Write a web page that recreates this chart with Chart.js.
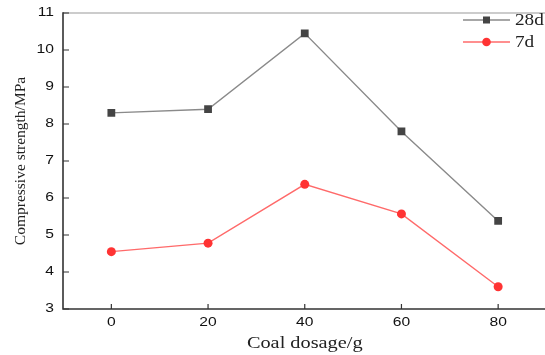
<!DOCTYPE html>
<html>
<head>
<meta charset="utf-8">
<script src="https://cdn.jsdelivr.net/npm/chart.js@4/dist/chart.umd.min.js"></script>
<style>
  html, body { margin: 0; padding: 0; background: #fff; overflow: hidden; }
  #wrap { position: absolute; left: 0; top: 0; width: 552px; height: 355px; }
</style>
</head>
<body>
<div id="wrap"><canvas id="chart"></canvas></div>
<script>
// data
var dosage = [0, 20, 40, 60, 80];
var strength28 = [8.3, 8.4, 10.45, 7.8, 5.38];
var strength7 = [4.55, 4.78, 6.37, 5.57, 3.6];
var xTicks = [0, 20, 40, 60, 80];
var yTicks = [3, 4, 5, 6, 7, 8, 9, 10, 11];
var xTitle = "Coal dosage/g";
var yTitle = "Compressive strength/MPa";

function toPoints(ys) {
  var pts = [];
  for (i = 0; i < dosage.length; i++) {
    pts.push({ x: dosage[i], y: ys[i] });
  }
  return pts;
}

// 原圖文字被橫向拉寬，用 scale 模擬
function stretchText(ctx, text, x, y, sx, align) {
  ctx.save();
  ctx.translate(x, y);
  ctx.scale(sx, 1);
  ctx.textAlign = align;
  ctx.textBaseline = "middle";
  ctx.fillText(text, 0, 0);
  ctx.restore();
}

// 框線、內側刻度、刻度文字、標題、圖例
var framePlugin = {
  id: "frame",
  afterDraw: function (chart) {
    var ctx = chart.ctx;
    var a = chart.chartArea;
    var xs = chart.scales.x;
    var ys = chart.scales.y;
    ctx.save();
    ctx.lineWidth = 1.2;
    ctx.strokeStyle = "#9a9a9a";
    ctx.beginPath();
    ctx.moveTo(a.left, a.top);
    ctx.lineTo(a.right, a.top);
    ctx.lineTo(a.right, a.bottom);
    ctx.stroke();

    ctx.strokeStyle = "#333";
    ctx.lineWidth = 1.6;
    ctx.beginPath();
    ctx.moveTo(a.left, a.top - 0.8);
    ctx.lineTo(a.left, a.bottom);
    ctx.lineTo(a.right, a.bottom);
    ctx.stroke();

    ctx.lineWidth = 1.2;
    ctx.beginPath();
    xTicks.forEach(function (v) {
      var px = xs.getPixelForValue(v);
      ctx.moveTo(px, a.bottom);
      ctx.lineTo(px, a.bottom - 5);
    });
    yTicks.forEach(function (v) {
      var py = ys.getPixelForValue(v);
      ctx.moveTo(a.left, py);
      ctx.lineTo(a.left + 6, py);
    });
    ctx.stroke();

    // tick labels
    ctx.fillStyle = "#111";
    ctx.font = "12.5px 'Liberation Sans'";
    xTicks.forEach(function (v) {
      stretchText(ctx, String(v), xs.getPixelForValue(v), a.bottom + 14, 1.25, "center");
    });
    yTicks.forEach(function (v) {
      stretchText(ctx, String(v), a.left - 9, ys.getPixelForValue(v), 1.25, "right");
    });

    // axis titles
    ctx.fillStyle = "#222";
    ctx.font = "16px 'Liberation Serif'";
    stretchText(ctx, xTitle, xs.getPixelForValue(40), 344, 1.27, "center");
    ctx.save();
    ctx.translate(21, (a.top + a.bottom) / 2);
    ctx.rotate(-Math.PI / 2);
    ctx.font = "15.5px 'Liberation Serif'";
    ctx.textAlign = "center";
    ctx.textBaseline = "middle";
    ctx.fillText(yTitle, 0, 0);
    ctx.restore();

    // legend
    var lx = 463, ly = 20;
    chart.data.datasets.forEach(function (ds, k) {
      var y = ly + k * 22;
      ctx.strokeStyle = ds.borderColor;
      ctx.lineWidth = 1.3;
      ctx.beginPath();
      ctx.moveTo(lx, y);
      ctx.lineTo(lx + 47, y);
      ctx.stroke();
      ctx.fillStyle = ds.pointBackgroundColor;
      if (ds.pointStyle == "rect") {
        ctx.fillRect(lx + 20, y - 3.5, 7, 7);
      } else {
        ctx.beginPath();
        ctx.arc(lx + 23.5, y, 4.3, 0, Math.PI * 2);
        ctx.fill();
      }
      ctx.fillStyle = "#222";
      ctx.font = "16px 'Liberation Serif'";
      stretchText(ctx, ds.label, lx + 52, y + 1, 1.2, "left");
    });
    ctx.restore();
  },
};

var ctx = document.getElementById("chart");
new Chart(ctx, {
  type: "scatter",
  data: {
    datasets: [
      {
        label: "28d",
        data: toPoints(strength28),
        showLine: true,
        borderColor: "#8a8a8a",
        borderWidth: 1.4,
        pointStyle: "rect",
        pointRadius: 5.5,
        pointBackgroundColor: "#444",
        pointBorderColor: "#444",
        pointBorderWidth: 0,
      },
      {
        label: "7d",
        data: toPoints(strength7),
        showLine: true,
        borderColor: "#ff6a6a",
        borderWidth: 1.4,
        pointStyle: "circle",
        pointRadius: 4.5,
        pointBackgroundColor: "#ff3333",
        pointBorderColor: "#ff3333",
        pointBorderWidth: 0,
      },
    ],
  },
  options: {
    responsive: true,
    maintainAspectRatio: false,
    animation: false,
    layout: { padding: { top: 13, right: 5, left: 0, bottom: 0 } },
    plugins: {
      legend: { display: false },
      tooltip: { enabled: false },
    },
    scales: {
      x: {
        type: "linear",
        min: -10,
        max: 90,
        afterBuildTicks: function (s) {
          s.ticks = xTicks.map(function (v) { return { value: v }; });
        },
        afterFit: function (s) { s.height = 46; },
        grid: { display: false, drawTicks: false },
        border: { display: false },
        ticks: { display: false },
      },
      y: {
        type: "linear",
        min: 3,
        max: 11,
        afterBuildTicks: function (s) {
          s.ticks = yTicks.map(function (v) { return { value: v }; });
        },
        afterFit: function (s) { s.width = 63; },
        grid: { display: false, drawTicks: false },
        border: { display: false },
        ticks: { display: false },
      },
    },
  },
  plugins: [framePlugin],
});
</script>
</body>
</html>
